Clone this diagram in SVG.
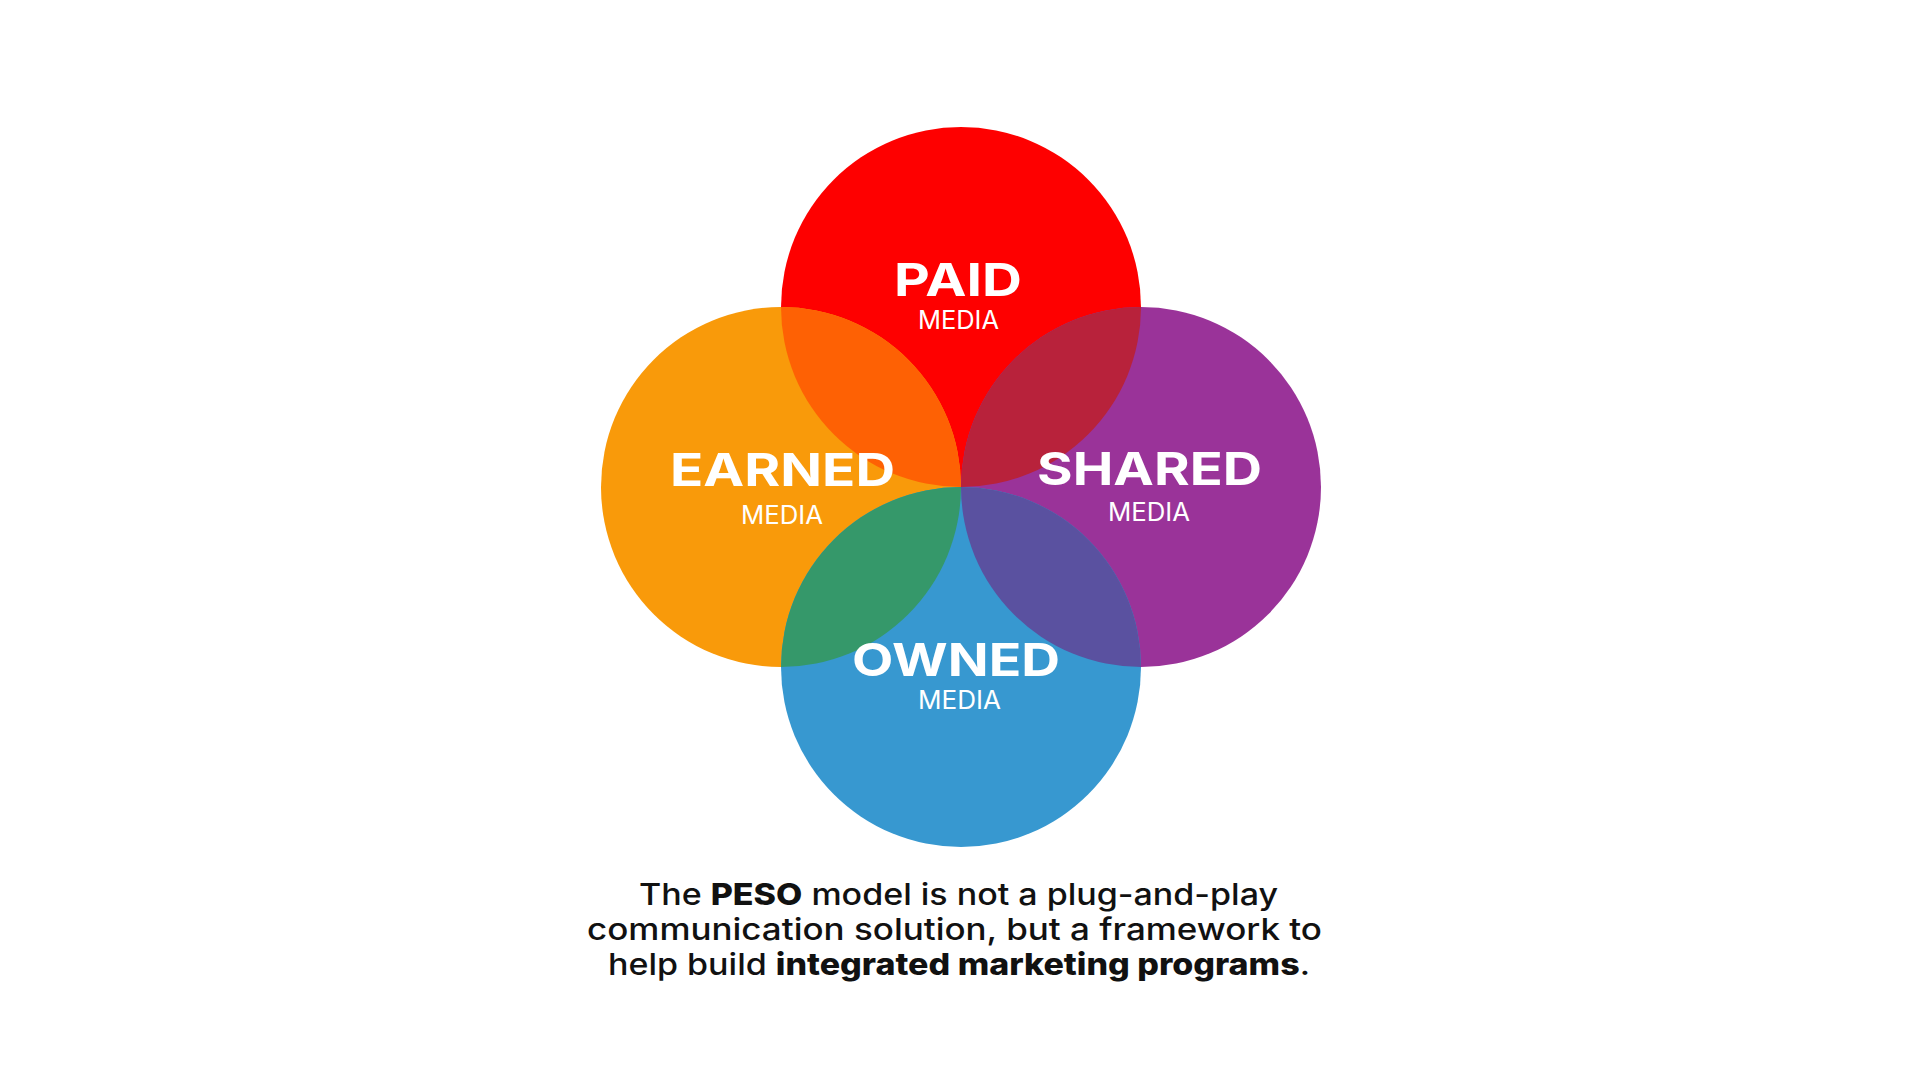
<svg xmlns="http://www.w3.org/2000/svg" width="1920" height="1080" viewBox="0 0 1920 1080">
  <style>
    .title { font-family: Inter, "Liberation Sans", sans-serif; font-weight: 700; font-size: 45px; fill: #ffffff; }
    .sub { font-family: Inter, "Liberation Sans", sans-serif; font-weight: 400; font-size: 25px; fill: #ffffff; }
    .cap { font-family: Inter, "Liberation Sans", sans-serif; font-weight: 500; font-size: 30px; fill: #111111; }
    .b { font-weight: 800; }
  </style>
  <defs>
    <clipPath id="clipRed"><circle cx="961" cy="307" r="180"/></clipPath>
    <clipPath id="clipBlue"><circle cx="961" cy="667" r="180"/></clipPath>
  </defs>
  <rect width="1920" height="1080" fill="#ffffff"/>

  <g id="paid">
    <circle cx="961" cy="307" r="180" fill="#fe0000"/>
  </g>
  <g id="earned">
    <circle cx="781" cy="487" r="180" fill="#f99a0a"/>
  </g>
  <g id="shared">
    <circle cx="1141" cy="487" r="180" fill="#9a3399"/>
  </g>
  <g id="owned">
    <circle cx="961" cy="667" r="180" fill="#3798d0"/>
  </g>

  <g id="overlaps">
    <g clip-path="url(#clipRed)">
      <circle cx="781" cy="487" r="180" fill="#fe6104"/>
      <circle cx="1141" cy="487" r="180" fill="#b8223b"/>
    </g>
    <g clip-path="url(#clipBlue)">
      <circle cx="781" cy="487" r="180" fill="#35986a"/>
      <circle cx="1141" cy="487" r="180" fill="#5a51a0"/>
    </g>
  </g>

  <g id="labels">
    <text class="title" x="894" y="296" textLength="128" lengthAdjust="spacingAndGlyphs">PAID</text>
    <text class="sub" x="918" y="329" textLength="81" lengthAdjust="spacingAndGlyphs">MEDIA</text>
    <text class="title" x="670" y="486" textLength="225" lengthAdjust="spacingAndGlyphs">EARNED</text>
    <text class="sub" x="741" y="524" textLength="82" lengthAdjust="spacingAndGlyphs">MEDIA</text>
    <text class="title" x="1037" y="485" textLength="225" lengthAdjust="spacingAndGlyphs">SHARED</text>
    <text class="sub" x="1108" y="521" textLength="82" lengthAdjust="spacingAndGlyphs">MEDIA</text>
    <text class="title" x="852" y="676" textLength="208" lengthAdjust="spacingAndGlyphs">OWNED</text>
    <text class="sub" x="918" y="709" textLength="83" lengthAdjust="spacingAndGlyphs">MEDIA</text>
  </g>

  <g id="caption">
    <text class="cap" x="639" y="905" textLength="639" lengthAdjust="spacingAndGlyphs">The <tspan class="b">PESO</tspan> model is not a plug-and-play</text>
    <text class="cap" x="587" y="940" textLength="735" lengthAdjust="spacingAndGlyphs">communication solution, but a framework to</text>
    <text class="cap" x="608" y="975" textLength="702" lengthAdjust="spacingAndGlyphs">help build <tspan class="b">integrated marketing programs</tspan>.</text>
  </g>
</svg>
